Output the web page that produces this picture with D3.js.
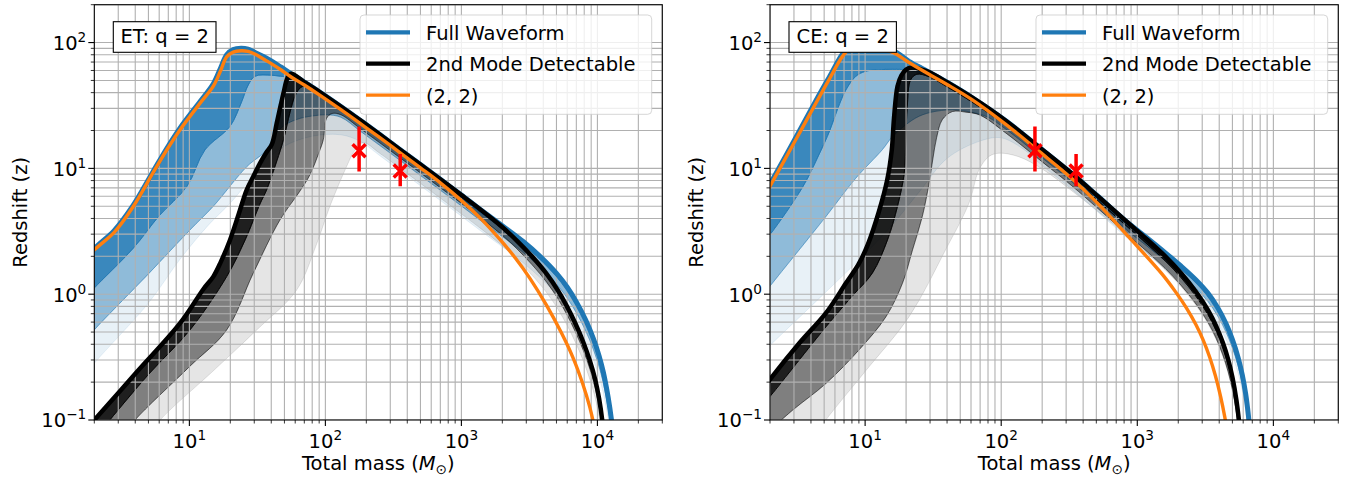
<!DOCTYPE html>
<html>
<head>
<meta charset="utf-8">
<script src="https://cdn.jsdelivr.net/npm/d3@7"></script>
<style>
  body { margin: 0; background: #fff; }
  svg { display: block; }
  text { font-family: "DejaVu Sans", sans-serif; fill: #000; }
</style>
</head>
<body>
<svg id="fig" width="1351" height="487"></svg>
<script>
// Detection horizons: redshift z reached as a function of total mass (solar masses).
// Each curve is a list of [mass, z] pairs.

// ---------- Einstein Telescope, q = 2 ----------
const etFull = [[1.8,1.95],[2,2.3],[2.8,3.2],[3.87,5.1],[5.4,9.4],[6.82,14.4],[8.55,21],[12,34],[15,47],[17,63],[18.8,80],[21,88],[24,90],[27,88.5],[30,84],[35,77.5],[40,71.5],[47,64],[56,56.5],[70,48.55],[92,40.1],[130,31.05],[180,24.17],[250,18.64],[355,14.08],[500,10.71],[700,8.18],[1000,6.13],[1400,4.65],[2000,3.5],[2860,2.61],[3800,1.99],[5020,1.457],[6000,1.135],[7050,0.856],[8200,0.623],[9340,0.444],[10300,0.322],[11070,0.238],[12000,0.151],[12770,0.095],[13200,0.068]];
const etFullQ1 = [[1.8,0.98],[2,1.12],[3.87,2.32],[6,4.2],[9.6,7.2],[13,14],[19.9,21.6],[24,33],[27.1,46],[30.4,54],[40,55],[46.5,54],[56,52.5],[70,46.1],[92,38.1],[130,29.5],[180,22.96],[250,17.71],[355,13.38],[500,10.17],[700,7.77],[1000,5.82],[1400,4.42],[2000,3.33],[2860,2.48],[3800,1.89],[5020,1.384],[6000,1.078],[7050,0.813],[8200,0.592],[9340,0.422],[10300,0.306],[11070,0.226],[12000,0.143],[12770,0.09],[13100,0.065]];
const etFullQ2 = [[1.8,0.45],[2,0.52],[5,1.45],[10.1,3.24],[15,5.0],[26.4,10.3],[37,14],[41.5,17.9],[50,22],[65.5,25],[85,26.3],[102,26.7],[130,25.5],[180,19.82],[250,15.28],[355,11.55],[500,8.78],[700,6.71],[1000,5.03],[1400,3.81],[2000,2.87],[2860,2.14],[3800,1.63],[5020,1.195],[6000,0.931],[7050,0.702],[8200,0.511],[9340,0.364],[10300,0.264],[11070,0.195],[12000,0.124],[12770,0.078],[13000,0.06]];
const etFullQ3 = [[1.8,0.24],[2,0.282],[5,0.85],[8.55,1.9],[14,3.6],[20,5.3],[26.4,7.6],[35,11],[50,15],[80,18],[130,18.5],[180,16.4],[250,12.68],[355,9.57],[500,7.28],[700,5.56],[1000,4.17],[1400,3.16],[2000,2.38],[2860,1.77],[3800,1.35],[5020,0.991],[6000,0.772],[7050,0.582],[8200,0.424],[9340,0.302],[10300,0.219],[11070,0.162],[12000,0.103],[12770,0.065],[12900,0.055]];
const etMode = [[1.8,0.088],[2,0.1],[4,0.233],[8.55,0.588],[12.7,1.1],[15,1.38],[17,1.8],[19.9,2.7],[23,4.3],[26.4,6.76],[29.5,8.6],[33.1,11],[37,13.5],[40.4,15.5],[43.9,22.9],[47,32],[49.2,39.7],[52.6,52.2],[56,56.5],[70,48.55],[92,40.1],[130,31.05],[180,24.17],[250,18.64],[355,14.08],[500,10.71],[700,8.18],[1000,6.13],[1400,4.65],[1928,3.53],[2553,2.67],[3300,2.0],[4246,1.443],[5100,1.08],[5957,0.804],[6900,0.582],[7880,0.415],[8800,0.296],[9610,0.212],[10300,0.147],[11000,0.088],[11200,0.07]];
const etModeQ1 = [[2.2,0.08],[2.6,0.1],[5,0.23],[10.1,0.52],[18.8,1.38],[25.7,2.7],[33,5.2],[37,6.76],[44,11.5],[49.2,16.9],[55,28],[60,38],[66,44],[75,45.2],[92,38.7],[130,29.96],[180,23.32],[250,17.99],[355,13.59],[500,10.34],[700,7.89],[1000,5.92],[1400,4.49],[1928,3.41],[2553,2.58],[3300,1.93],[4246,1.393],[5100,1.042],[5957,0.776],[6900,0.562],[7880,0.40],[8800,0.286],[9610,0.205],[10300,0.142],[11000,0.085],[11100,0.07]];
const etModeQ2 = [[3.4,0.08],[3.98,0.1],[10,0.265],[18.8,0.52],[29.5,1.47],[46.4,3.9],[65,6.6],[77,8.9],[90,13.5],[96.5,16.9],[102,25],[112,27.3],[130,26.7],[180,20.79],[250,16.03],[355,12.11],[500,9.21],[700,7.03],[1000,5.27],[1400,4.0],[1928,3.04],[2553,2.30],[3300,1.72],[4246,1.241],[5100,0.929],[5957,0.691],[6900,0.50],[7880,0.357],[8800,0.255],[9610,0.182],[10300,0.126],[11000,0.076],[11100,0.065]];
const etModeQ3 = [[5.3,0.08],[6.1,0.1],[15,0.246],[31.3,0.52],[61.5,1.08],[85,2.4],[108,5.0],[143,10.3],[165,14],[190,16],[250,13.23],[355,10.0],[500,7.6],[700,5.81],[1000,4.35],[1400,3.30],[1928,2.51],[2553,1.90],[3300,1.42],[4246,1.025],[5100,0.767],[5957,0.571],[6900,0.413],[7880,0.295],[8800,0.21],[9610,0.151],[10300,0.104],[11000,0.062]];
const et22 = [[1.8,1.95],[2,2.25],[2.8,3.1],[3.87,4.98],[5.4,9.2],[6.82,14],[8.55,20.3],[12,33],[15,45],[17,60],[18.8,77],[21,84],[24,86],[27,85],[30,81.5],[35,74],[40,68],[47,60.8],[55,54],[70,46.0],[92,37.9],[130,29.3],[180,22.8],[250,17.6],[355,13.3],[500,10.1],[700,7.67],[1000,5.56],[1400,3.95],[1928,2.71],[2500,1.93],[3200,1.33],[4200,0.826],[5400,0.5],[6600,0.315],[7800,0.194],[8800,0.126],[9700,0.079]];

// ---------- Cosmic Explorer, q = 2 ----------
const ceFull = [[1.8,6.1],[2.03,7.7],[3,16.5],[4.35,34.5],[5.5,54],[6.82,81],[7.63,91],[10,93],[13.4,91.5],[16,87],[21,71],[26,62.5],[29.5,58.2],[40,48.4],[61,36.6],[107.5,24.0],[189,14.8],[330,9.1],[518,5.95],[865,3.65],[1180,2.8],[1600,2.142],[2100,1.668],[2700,1.297],[3300,1.02],[3900,0.78],[4500,0.578],[5000,0.435],[5500,0.315],[5900,0.2295],[6250,0.1625],[6550,0.109],[6750,0.076]];
const ceFullQ1 = [[1.8,2.6],[2.04,3.06],[3.5,7.2],[4.6,13],[5.5,20],[6.3,30],[7.22,42],[8.55,54],[10,59],[11.9,60.6],[18.8,61],[22,59.5],[29.5,55.3],[40,46.0],[61,34.8],[107.5,22.8],[189,14.06],[330,8.65],[518,5.65],[865,3.47],[1180,2.66],[1600,2.035],[2100,1.585],[2700,1.232],[3300,0.969],[3900,0.741],[4500,0.549],[5000,0.413],[5500,0.299],[5900,0.218],[6250,0.154],[6550,0.1035],[6750,0.072]];
const ceFullQ2 = [[1.8,1.0],[2.04,1.19],[5.15,4.14],[8.5,8.3],[13.4,14.1],[16,18],[25,26],[41.3,29.2],[60,28],[80,25.5],[107.5,20.6],[189,12.73],[330,7.83],[518,5.12],[865,3.14],[1180,2.41],[1600,1.842],[2100,1.434],[2700,1.115],[3300,0.877],[3900,0.671],[4500,0.497],[5000,0.374],[5500,0.271],[5900,0.197],[6250,0.14],[6550,0.094],[6750,0.065]];
const ceFullQ3 = [[1.8,0.35],[2.04,0.4],[5,1.01],[10.7,2.25],[16,3.6],[25,6.5],[40,12],[70,16.5],[100,17.5],[150,13.9],[189,11.1],[330,6.83],[518,4.46],[865,2.74],[1180,2.1],[1600,1.607],[2100,1.251],[2700,0.973],[3300,0.765],[3900,0.585],[4500,0.434],[5000,0.326],[5500,0.236],[5900,0.172],[6250,0.122],[6550,0.082],[6750,0.057]];
const ceMode = [[1.8,0.18],[2.0,0.21],[3.28,0.407],[5.15,0.706],[7.22,1.22],[9.0,1.75],[10.5,2.5],[12.6,4.5],[14.5,8],[15.7,14],[16.3,25],[17.3,45],[18.5,55],[20,61],[22,63.5],[26,61],[29.5,58.2],[40,48.4],[61,36.6],[107.5,24.0],[189,14.8],[330,9.1],[518,5.95],[865,3.65],[1180,2.72],[1600,2.006],[2100,1.467],[2700,1.045],[3300,0.75],[3800,0.558],[4250,0.4125],[4650,0.304],[5000,0.219],[5350,0.144],[5650,0.088],[5750,0.07]];
const ceModeQ1 = [[1.8,0.135],[2.04,0.158],[5.15,0.55],[8,0.96],[11.3,1.47],[14.6,2.7],[17.3,5.0],[19.4,9.2],[19.9,16.9],[20.4,31],[21.6,50.6],[24,56],[29.5,53.5],[40,44.5],[61,33.7],[107.5,22.1],[189,13.6],[330,8.37],[518,5.47],[865,3.36],[1180,2.5],[1600,1.846],[2100,1.35],[2700,0.961],[3300,0.69],[3800,0.513],[4250,0.38],[4650,0.28],[5000,0.201],[5350,0.132],[5650,0.081],[5700,0.07]];
const ceModeQ2 = [[1.8,0.075],[2.94,0.12],[5.15,0.195],[9.0,0.36],[14.2,0.66],[18.8,1.22],[22.3,2.25],[26.3,4.14],[29.5,7.63],[31.5,12],[33.5,17.5],[36.9,24.4],[43.8,28.3],[55,28],[70,26.5],[107.5,19.2],[189,11.84],[330,7.28],[518,4.76],[865,2.92],[1180,2.18],[1600,1.605],[2100,1.174],[2700,0.836],[3300,0.6],[3800,0.446],[4250,0.33],[4650,0.243],[5000,0.175],[5350,0.115],[5650,0.07]];
const ceModeQ3 = [[4.5,0.08],[5.15,0.1],[10,0.243],[21,0.66],[39,2.25],[58,5.3],[68.6,9.7],[81,12.4],[96,13.2],[134,12.4],[200,9.9],[330,6.64],[518,4.52],[865,2.85],[1180,2.12],[1600,1.565],[2100,1.144],[2700,0.815],[3300,0.585],[3800,0.435],[4250,0.322],[4650,0.237],[5000,0.171],[5350,0.112],[5650,0.069]];
const ce22 = [[1.8,5.85],[2.03,7.41],[3,15.9],[4.35,33],[5.5,52],[6.82,77.7],[7.63,87.9],[10,89],[13.4,87.5],[16,83.5],[21,69.5],[29.5,56],[40,46.5],[61,35.2],[107.5,22.5],[189,13.7],[330,8.3],[518,5.2],[865,2.85],[1517,1.45],[1900,1.053],[2300,0.776],[2700,0.572],[3050,0.432],[3400,0.317],[3750,0.225],[4100,0.153],[4400,0.105],[4650,0.0735]];

// ---------- Observed events (total mass, redshift with error range) ----------
const eventMass = [177, 355];
const eventZ    = [13.8, 9.55];
const eventZLo  = [9.45, 7.2];
const eventZHi  = [21.5, 13.0];

// ---------- Axis ticks and legend ----------
const massDomain = [2, 3e4];
const zDomain = [0.1, 200];
const xTickPowers = [1, 2, 3, 4];
const yTickPowers = [-1, 0, 1, 2];
const legendLabels = ["Full Waveform", "2nd Mode Detectable", "(2, 2)"];

const BLUE = "#1f77b4", ORANGE = "#ff7f0e", RED = "#ff0000";

const panels = [
  { title: "ET: q = 2", left: 94.3, right: 662.3, ylabX: 27,
    full: etFull, fullQ: [etFullQ1, etFullQ2, etFullQ3],
    mode: etMode, modeQ: [etModeQ1, etModeQ2, etModeQ3], l22: et22 },
  { title: "CE: q = 2", left: 770, right: 1338.3, ylabX: 703,
    full: ceFull, fullQ: [ceFullQ1, ceFullQ2, ceFullQ3],
    mode: ceMode, modeQ: [ceModeQ1, ceModeQ2, ceModeQ3], l22: ce22 }
];

const TOP = 4.7, BOTTOM = 420;
const FS = 19.5;
const svg = d3.select("#fig");

function supLabel(sel, power) {
  sel.append("tspan").text("10");
  sel.append("tspan").attr("dy", -8).attr("font-size", FS * 0.7)
     .text(power < 0 ? "\u2212" + Math.abs(power) : String(power));
}

panels.forEach((p, pi) => {
  const x = d3.scaleLog().domain(massDomain).range([p.left, p.right]);
  const y = d3.scaleLog().domain(zDomain).range([BOTTOM, TOP]);
  const line = d3.line().x(d => x(d[0])).y(d => y(d[1]))
                 .curve(d3.curveCatmullRom.alpha(0.5));
  const band = (upper, lower) => {
    const a = line(upper);
    const b = line(lower.slice().reverse());
    return a + "L" + b.slice(1) + "Z";
  };

  const clipId = "clip" + pi;
  svg.append("clipPath").attr("id", clipId).append("rect")
     .attr("x", p.left).attr("y", TOP)
     .attr("width", p.right - p.left).attr("height", BOTTOM - TOP);

  const g = svg.append("g");
  const plot = g.append("g").attr("clip-path", `url(#${clipId})`);

  // shaded bands: full waveform (blue), then second mode (black)
  const alphas = [0.88, 0.5, 0.1];
  const fullBounds = [p.full].concat(p.fullQ);
  for (let i = 0; i < 3; i++) {
    plot.append("path").attr("d", band(fullBounds[i], fullBounds[i + 1]))
      .attr("fill", BLUE).attr("fill-opacity", alphas[i])
      .attr("stroke", BLUE).attr("stroke-opacity", alphas[i]).attr("stroke-width", 1);
  }
  const modeBounds = [p.mode].concat(p.modeQ);
  for (let i = 0; i < 3; i++) {
    plot.append("path").attr("d", band(modeBounds[i], modeBounds[i + 1]))
      .attr("fill", "#000").attr("fill-opacity", alphas[i])
      .attr("stroke", "#000").attr("stroke-opacity", alphas[i]).attr("stroke-width", 1);
  }

  // grid (major and minor)
  const isMajor = v => Math.abs(Math.log10(v) - Math.round(Math.log10(v))) < 1e-9;
  const xt = x.ticks(), yt = y.ticks();
  plot.append("g").selectAll("line").data(xt).join("line")
    .attr("x1", d => x(d)).attr("x2", d => x(d)).attr("y1", TOP).attr("y2", BOTTOM)
    .attr("stroke", "#b0b0b0").attr("stroke-width", 1.1);
  plot.append("g").selectAll("line").data(yt).join("line")
    .attr("y1", d => y(d)).attr("y2", d => y(d)).attr("x1", p.left).attr("x2", p.right)
    .attr("stroke", "#b0b0b0").attr("stroke-width", 1.1);

  // horizon lines
  plot.append("path").attr("d", line(p.full)).attr("fill", "none")
    .attr("stroke", BLUE).attr("stroke-width", 5).attr("stroke-linejoin", "round");
  plot.append("path").attr("d", line(p.mode)).attr("fill", "none")
    .attr("stroke", "#000").attr("stroke-width", 4.5).attr("stroke-linejoin", "round");
  plot.append("path").attr("d", line(p.l22)).attr("fill", "none")
    .attr("stroke", ORANGE).attr("stroke-width", 3.4).attr("stroke-linejoin", "round");

  // events with redshift error bars
  const ev = plot.append("g");
  eventMass.forEach((m, i) => {
    const cx = x(m), cy = y(eventZ[i]);
    ev.append("line").attr("x1", cx).attr("x2", cx)
      .attr("y1", y(eventZHi[i])).attr("y2", y(eventZLo[i]))
      .attr("stroke", RED).attr("stroke-width", 3.5);
    const s = 6.5;
    ev.append("path")
      .attr("d", `M${cx - s},${cy - s}L${cx + s},${cy + s}M${cx - s},${cy + s}L${cx + s},${cy - s}`)
      .attr("stroke", RED).attr("stroke-width", 3.5).attr("fill", "none");
  });

  // frame
  g.append("rect").attr("x", p.left).attr("y", TOP)
    .attr("width", p.right - p.left).attr("height", BOTTOM - TOP)
    .attr("fill", "none").attr("stroke", "#000").attr("stroke-width", 1.1);

  // ticks
  g.append("g").selectAll("line").data(xt).join("line")
    .attr("x1", d => x(d)).attr("x2", d => x(d))
    .attr("y1", BOTTOM).attr("y2", d => BOTTOM + (isMajor(d) ? 6 : 3.5))
    .attr("stroke", "#000").attr("stroke-width", d => isMajor(d) ? 1.1 : 0.8);
  g.append("g").selectAll("line").data(yt).join("line")
    .attr("y1", d => y(d)).attr("y2", d => y(d))
    .attr("x1", p.left).attr("x2", d => p.left - (isMajor(d) ? 6 : 3.5))
    .attr("stroke", "#000").attr("stroke-width", d => isMajor(d) ? 1.1 : 0.8);

  // tick labels
  xTickPowers.forEach(k => {
    const t = g.append("text").attr("x", x(Math.pow(10, k))).attr("y", 447.5)
      .attr("text-anchor", "middle").attr("font-size", FS);
    supLabel(t, k);
  });
  yTickPowers.forEach(k => {
    const t = g.append("text").attr("x", p.left - 8).attr("y", y(Math.pow(10, k)) + 7.4)
      .attr("text-anchor", "end").attr("font-size", FS);
    supLabel(t, k);
  });

  // axis labels
  const xl = g.append("text").attr("x", (p.left + p.right) / 2).attr("y", 470)
    .attr("text-anchor", "middle").attr("font-size", FS);
  xl.append("tspan").text("Total mass (");
  xl.append("tspan").attr("font-style", "italic").text("M");
  xl.append("tspan").attr("font-size", FS * 0.7).attr("dy", 4).text("\u2299");
  xl.append("tspan").attr("dy", -4).text(")");

  g.append("text").attr("transform", `translate(${p.ylabX},${(TOP + BOTTOM) / 2}) rotate(-90)`)
    .attr("text-anchor", "middle").attr("font-size", FS).text("Redshift (z)");

  // panel title box
  const tb = { x: p.left + 19, y: 21.7, w: pi === 0 ? 102.7 : 107.4, h: 30.6 };
  g.append("rect").attr("x", tb.x).attr("y", tb.y).attr("width", tb.w).attr("height", tb.h)
    .attr("fill", "#fff").attr("stroke", "#000").attr("stroke-width", 1.1);
  g.append("text").attr("x", tb.x + tb.w / 2).attr("y", 43.3)
    .attr("text-anchor", "middle").attr("font-size", FS).text(p.title);

  // legend
  const lx = p.right - 302.3, ly = 15, lw = 291.7, lh = 99.3;
  g.append("rect").attr("x", lx).attr("y", ly).attr("width", lw).attr("height", lh)
    .attr("rx", 4).attr("fill", "#fff").attr("fill-opacity", 0.8)
    .attr("stroke", "#cccccc").attr("stroke-opacity", 0.8).attr("stroke-width", 1);
  const legendColors = [BLUE, "#000", ORANGE];
  const legendWidths = [4.2, 4.2, 3.2];
  legendLabels.forEach((lab, i) => {
    const cy = 32.3 + i * 31.4;
    g.append("line").attr("x1", lx + 6).attr("x2", lx + 50).attr("y1", cy).attr("y2", cy)
      .attr("stroke", legendColors[i]).attr("stroke-width", legendWidths[i]);
    g.append("text").attr("x", lx + 66).attr("y", cy + 7.5)
      .attr("font-size", FS).text(lab);
  });
});
</script>
</body>
</html>
